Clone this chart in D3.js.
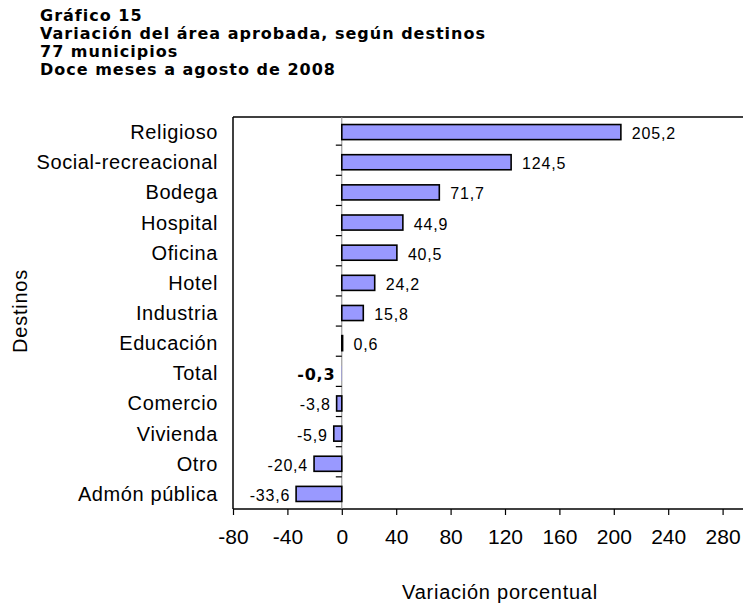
<!DOCTYPE html>
<html>
<head>
<meta charset="utf-8">
<script src="https://cdn.jsdelivr.net/npm/d3@7"></script>
<style>
  body { margin: 0; background: #fff; }
  svg { display: block; }
  .title { font-family: "DejaVu Sans", Verdana, sans-serif; font-weight: bold; font-size: 16px; letter-spacing: 1px; }
  .cat { font-family: "Liberation Sans", Arial, sans-serif; font-size: 20px; letter-spacing: 0.6px; }
  .axtitle { font-family: "Liberation Sans", Arial, sans-serif; font-size: 20px; letter-spacing: 0.75px; }
  .tick text { font-family: "Liberation Sans", Arial, sans-serif; font-size: 21px; }
  .val { font-family: "Liberation Sans", Arial, sans-serif; font-size: 16px; letter-spacing: 0.8px; }
</style>
</head>
<body>
<svg id="chart" width="743" height="605"></svg>
<script>
// Chart data
var titleLines = ["Gráfico 15", "Variación del área aprobada, según destinos", "77 municipios", "Doce meses a agosto de 2008"];
var destinos = ["Religioso", "Social-recreacional", "Bodega", "Hospital", "Oficina", "Hotel", "Industria",
    "Educación", "Total", "Comercio", "Vivienda", "Otro", "Admón pública"];
var variacion = [205.2, 124.5, 71.7, 44.9, 40.5, 24.2, 15.8, 0.6, -0.3, -3.8, -5.9, -20.4, -33.6];
var xTicks = [-80, -40, 0, 40, 80, 120, 160, 200, 240, 280];

var svg = d3.select("#chart");

var plotLeft = 233, plotTop = 117, plotBottom = 509;

var xScale = d3.scaleLinear()
    .domain([-80, 320])
    .range([plotLeft, plotLeft + 400 * 1.36]);

var yScale = d3.scaleBand()
    .domain(destinos)
    .range([plotTop, plotBottom])
    .paddingInner(0.5)
    .paddingOuter(0.25);

// title
svg.selectAll("text.title")
    .data(titleLines)
    .enter()
    .append("text")
    .attr("class", "title")
    .attr("x", 40)
    .attr("y", function (d, i) { return 20.5 + i * 18.3; })
    .text(function (d) { return d; });

// frame (top and left; right edge falls off the page)
svg.append("line")
    .attr("x1", plotLeft).attr("x2", 743)
    .attr("y1", plotTop).attr("y2", plotTop)
    .attr("stroke", "#000").attr("stroke-width", 1.5);
svg.append("line")
    .attr("x1", plotLeft).attr("x2", plotLeft)
    .attr("y1", plotTop).attr("y2", plotBottom)
    .attr("stroke", "#000").attr("stroke-width", 1.5);

// x axis (hyphen minus, like the original)
var xAxis = d3.axisBottom(xScale)
    .tickValues(xTicks)
    .tickSize(6)
    .tickPadding(14)
    .tickFormat(function (d) { return String(d); });
var xg = svg.append("g")
    .attr("transform", "translate(0," + plotBottom + ")")
    .call(xAxis);
xg.select(".domain").attr("d", "M" + plotLeft + ",0H743").attr("stroke-width", 1.5);
xg.selectAll(".tick line").attr("stroke-width", 1.2);
xg.selectAll(".tick text").attr("fill", "#000");

// zero line with category separator ticks
var x0 = xScale(0);
svg.append("line")
    .attr("x1", x0).attr("x2", x0)
    .attr("y1", plotTop).attr("y2", plotBottom)
    .attr("stroke", "#888").attr("stroke-width", 1);
var step = yScale.step();
svg.selectAll("line.sep")
    .data(destinos.slice(1))
    .enter()
    .append("line")
    .attr("class", "sep")
    .attr("x1", x0 - 6).attr("x2", x0)
    .attr("y1", function (d) { return yScale(d) - step * yScale.paddingInner() / 2 - 2; })
    .attr("y2", function (d) { return yScale(d) - step * yScale.paddingInner() / 2 - 2; })
    .attr("stroke", "#000").attr("stroke-width", 1.2);

// bars
svg.selectAll("rect.bar")
    .data(variacion)
    .enter()
    .append("rect")
    .attr("class", "bar")
    .attr("x", function (d) { return xScale(Math.min(0, d)); })
    .attr("y", function (d, i) { return yScale(destinos[i]); })
    .attr("width", function (d) { return Math.abs(xScale(d) - x0); })
    .attr("height", yScale.bandwidth())
    .attr("fill", "#9999ff")
    .attr("stroke", "#000")
    .attr("stroke-width", function (d, i) { return destinos[i] === "Total" ? 0 : 1.6; });

// value labels
var fmt = function (v) { return v.toFixed(1).replace(".", ","); };
svg.selectAll("text.val")
    .data(variacion)
    .enter()
    .append("text")
    .attr("class", "val")
    .attr("x", function (d) { return d >= 0 ? xScale(d) + 11 : xScale(d) - 6; })
    .attr("y", function (d, i) { return yScale(destinos[i]) + yScale.bandwidth() / 2 + 7; })
    .attr("text-anchor", function (d) { return d >= 0 ? "start" : "end"; })
    .attr("font-weight", function (d, i) { return destinos[i] === "Total" ? "bold" : "normal"; })
    .style("font-family", function (d, i) { return destinos[i] === "Total" ? "'DejaVu Sans', Verdana, sans-serif" : null; })
    .style("font-size", function (d, i) { return destinos[i] === "Total" ? "16px" : null; })
    .text(function (d) { return fmt(d); });

// category labels
svg.selectAll("text.cat")
    .data(destinos)
    .enter()
    .append("text")
    .attr("class", "cat")
    .attr("x", 218)
    .attr("y", function (d) { return yScale(d) + yScale.bandwidth() / 2 + 7; })
    .attr("text-anchor", "end")
    .text(function (d) { return d; });

// axis titles
svg.append("text")
    .attr("class", "axtitle")
    .attr("x", 500)
    .attr("y", 599)
    .attr("text-anchor", "middle")
    .text("Variación porcentual");
svg.append("text")
    .attr("class", "axtitle")
    .attr("transform", "translate(27,311) rotate(-90)")
    .attr("text-anchor", "middle")
    .text("Destinos");
</script>
</body>
</html>
